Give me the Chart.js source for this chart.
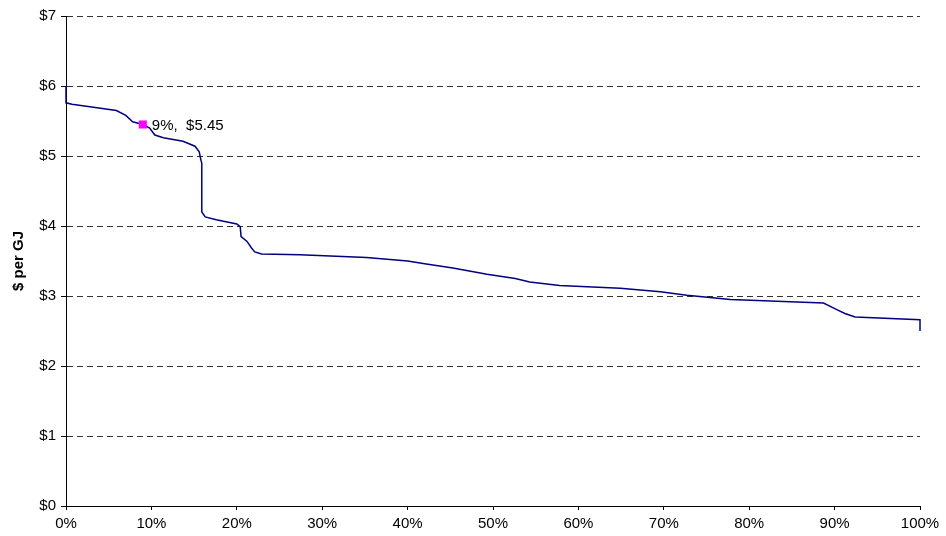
<!DOCTYPE html>
<html>
<head>
<meta charset="utf-8">
<script src="https://cdn.jsdelivr.net/npm/chart.js@4"></script>
<style>
  html, body { margin: 0; padding: 0; background: #fff; }
  #wrap { width: 946px; height: 536px; position: relative; }
</style>
</head>
<body>
<div id="wrap"><canvas id="c" width="946" height="536"></canvas></div>
<script>
// Supply curve: cumulative share of volume (%) against price ($ per GJ)
const sharePct = [0, 0, 0.7, 3, 5.9, 7, 7.8, 9, 9.8, 10.4, 11.4, 13.7, 15.1, 15.6, 15.8, 15.9, 15.9, 16.3, 17.6, 20, 20.4, 20.5, 21.2, 21.7, 22.1, 22.9, 27.4, 35.2, 40, 42, 45.3, 49.3, 52.6, 54.3, 57.8, 64.9, 69.6, 72.7, 77.8, 88.7, 90.2, 91.2, 92.4, 100, 100];
const pricePerGJ = [6.0, 5.76, 5.74, 5.70, 5.65, 5.58, 5.49, 5.45, 5.40, 5.30, 5.26, 5.21, 5.14, 5.06, 4.94, 4.90, 4.20, 4.13, 4.09, 4.03, 3.99, 3.85, 3.78, 3.69, 3.63, 3.60, 3.59, 3.55, 3.50, 3.46, 3.40, 3.31, 3.25, 3.20, 3.15, 3.11, 3.06, 3.01, 2.95, 2.90, 2.81, 2.75, 2.70, 2.66, 2.50];

// Highlighted point and its label
const markPct = [9];
const markPrice = [5.45];

const xTicks = [0, 10, 20, 30, 40, 50, 60, 70, 80, 90, 100];
const yTicks = [0, 1, 2, 3, 4, 5, 6, 7];

const FONT = "'Liberation Sans', Arial, sans-serif";
const NARROW = "'Liberation Sans Narrow', 'Arial Narrow', 'Liberation Sans', sans-serif";

const markLabel = {
  id: 'markLabel',
  afterDatasetsDraw(chart) {
    const xs = chart.scales.x, ys = chart.scales.y;
    const ctx = chart.ctx;
    ctx.save();
    ctx.font = '15px ' + FONT;
    ctx.fillStyle = '#000';
    ctx.textBaseline = 'middle';
    ctx.textAlign = 'left';
    markPct.forEach((p, i) => {
      const px = xs.getPixelForValue(p);
      const py = ys.getPixelForValue(markPrice[i]);
      ctx.fillText(p + '%,  $' + markPrice[i].toFixed(2), px + 9, py + 1);
    });
    ctx.restore();
  }
};

new Chart(document.getElementById('c'), {
  type: 'scatter',
  data: {
    datasets: [
      {
        data: markPct.map((p, i) => ({ x: p, y: markPrice[i] })),
        pointStyle: 'rect',
        pointRadius: 5.7,
        backgroundColor: '#ff00ff',
        borderColor: '#ff00ff',
        borderWidth: 0,
        showLine: false,
        order: 0
      },
      {
        data: sharePct.map((p, i) => ({ x: p, y: pricePerGJ[i] })),
        showLine: true,
        borderColor: '#000080',
        borderWidth: 1.5,
        pointRadius: 0,
        tension: 0,
        clip: 4,
        order: 1
      }
    ]
  },
  options: {
    responsive: false,
    animation: false,
    layout: { padding: { left: 0, right: 26, top: 16, bottom: 0 } },
    plugins: { legend: { display: false }, tooltip: { enabled: false } },
    scales: {
      x: {
        type: 'linear',
        min: 0, max: 100,
        afterBuildTicks(s) { s.ticks = xTicks.map(v => ({ value: v })); },
        afterFit(s) { s.height = 30; },
        ticks: {
          callback: v => v + '%',
          color: '#000',
          font: { family: NARROW, size: 15 },
          padding: 5,
          maxRotation: 0,
          autoSkip: false
        },
        grid: { display: true, drawOnChartArea: false, drawTicks: true, tickLength: 4, color: '#000' },
        border: { display: true, color: '#000', width: 1 }
      },
      y: {
        type: 'linear',
        min: 0, max: 7,
        afterBuildTicks(s) { s.ticks = yTicks.map(v => ({ value: v })); },
        afterFit(s) { s.width = 66; },
        title: {
          display: true,
          text: '$ per GJ',
          color: '#000',
          font: { family: FONT, size: 15, weight: 'bold' },
          padding: { top: 10, bottom: 0 }
        },
        ticks: {
          callback: v => '$' + v,
          color: '#000',
          font: { family: FONT, size: 15 },
          padding: 5
        },
        grid: {
          display: true,
          drawTicks: true,
          tickLength: 5,
          color: ctx => ctx.tick && ctx.tick.value === 0 ? 'rgba(0,0,0,0)' : '#333',
          tickColor: '#000',
          tickBorderDash: [],
          lineWidth: 1
        },
        border: { display: true, color: '#000', width: 1, dash: [6, 4] }
      }
    }
  },
  plugins: [markLabel]
});
</script>
</body>
</html>
